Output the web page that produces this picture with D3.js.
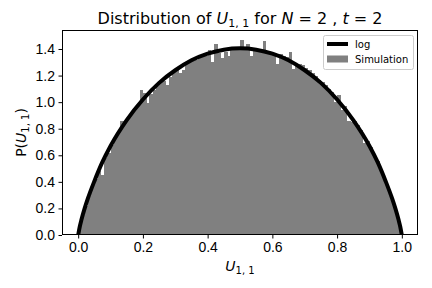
<!doctype html>
<html lang="en">
<head>
  <meta charset="utf-8">
  <title>Distribution of U11</title>
  <style>
    body { margin: 0; background: #fff; }
    svg { font-family: 'DejaVu Sans', sans-serif; }
    .tick text { font-size: 14px; fill: #000; }
    .tick line { stroke: #000; stroke-width: 1; }
    .domain { display: none; }
  </style>
</head>
<body>
<div id="chart"></div>
<script src="https://d3js.org/d3.v7.min.js"></script>
<script>
// histogram of the simulation, 100 bins of width 0.01 from 0 to 1
const binWidth = 0.01;
const simDensity = [
  0.07, 0.15, 0.22, 0.29, 0.36, 0.42, 0.48, 0.45, 0.58, 0.62,
  0.68, 0.72, 0.76, 0.86, 0.84, 0.87, 0.90, 0.94, 0.97, 1.09,
  1.07, 0.99, 1.06, 1.09, 1.12, 1.15, 1.16, 1.13, 1.19, 1.23,
  1.25, 1.22, 1.24, 1.29, 1.30, 1.31, 1.32, 1.33, 1.34, 1.35,
  1.39, 1.30, 1.44, 1.37, 1.33, 1.38, 1.35, 1.39, 1.40, 1.395,
  1.47, 1.39, 1.44, 1.35, 1.39, 1.395, 1.39, 1.46, 1.38, 1.375,
  1.37, 1.29, 1.36, 1.35, 1.34, 1.38, 1.25, 1.28, 1.29, 1.28,
  1.26, 1.24, 1.22, 1.20, 1.17, 1.15, 1.13, 1.10, 1.08, 1.00,
  1.05, 0.94, 0.97, 0.86, 0.85, 0.86, 0.83, 0.79, 0.69, 0.71,
  0.66, 0.61, 0.56, 0.50, 0.43, 0.36, 0.29, 0.22, 0.15, 0.07
];

// "log" curve, points
const curveU = [0, 0.005, 0.01, 0.02, 0.03, 0.05, 0.075, 0.1, 0.15, 0.2, 0.25, 0.3, 0.35, 0.4, 0.45, 0.5,
  0.55, 0.6, 0.65, 0.7, 0.75, 0.8, 0.85, 0.9, 0.925, 0.95, 0.97, 0.98, 0.99, 0.995, 1];
const curveP = [0, 0.064, 0.114, 0.200, 0.275, 0.405, 0.550, 0.670, 0.865, 1.020, 1.145, 1.240, 1.315, 1.365, 1.395, 1.405,
  1.395, 1.365, 1.315, 1.240, 1.145, 1.020, 0.865, 0.670, 0.550, 0.405, 0.275, 0.200, 0.114, 0.064, 0];

const xTicks = [0, 0.2, 0.4, 0.6, 0.8, 1.0];
const yTicks = [0, 0.2, 0.4, 0.6, 0.8, 1.0, 1.2, 1.4];

const width = 432, height = 288;
const margin = { top: 30, right: 14, bottom: 53, left: 62 };

const svg = d3.select('#chart').append('svg')
  .attr('width', width)
  .attr('height', height);

const x = d3.scaleLinear().domain([-0.05, 1.05]).range([margin.left, width - margin.right]);
const y = d3.scaleLinear().domain([0, 1.543]).range([height - margin.bottom, margin.top]);

svg.append('clipPath').attr('id', 'plot-clip')
  .append('rect')
  .attr('x', margin.left).attr('y', margin.top)
  .attr('width', width - margin.left - margin.right)
  .attr('height', height - margin.top - margin.bottom);

// bars
svg.append('g')
  .attr('shape-rendering', 'crispEdges')
  .selectAll('rect')
  .data(simDensity)
  .join('rect')
  .attr('x', (d, i) => x(i * binWidth))
  .attr('width', (d, i) => x((i + 1) * binWidth) - x(i * binWidth) + 0.5)
  .attr('y', d => y(d))
  .attr('height', d => y(0) - y(d))
  .attr('fill', '#808080');

// curve
const line = d3.line()
  .x(d => x(d[0]))
  .y(d => y(d[1]))
  .curve(d3.curveMonotoneX);

svg.append('path')
  .datum(d3.zip(curveU, curveP))
  .attr('d', line)
  .attr('fill', 'none')
  .attr('stroke', '#000')
  .attr('stroke-width', 4)
  .attr('clip-path', 'url(#plot-clip)');

// axes
svg.append('g')
  .attr('transform', `translate(0,${height - margin.bottom})`)
  .call(d3.axisBottom(x).tickValues(xTicks).tickFormat(d3.format('.1f')).tickSize(3.5).tickPadding(3.5));

svg.append('g')
  .attr('transform', `translate(${margin.left},0)`)
  .call(d3.axisLeft(y).tickValues(yTicks).tickFormat(d3.format('.1f')).tickSize(3.5).tickPadding(3.5));

// frame
svg.append('rect')
  .attr('x', margin.left + 0.5).attr('y', margin.top + 0.5)
  .attr('width', width - margin.left - margin.right - 1)
  .attr('height', height - margin.top - margin.bottom - 1)
  .attr('fill', 'none')
  .attr('stroke', '#000')
  .attr('stroke-width', 1);

// title
const title = svg.append('text')
  .attr('x', (margin.left + width - margin.right) / 2)
  .attr('y', 24)
  .attr('text-anchor', 'middle')
  .attr('font-size', 16);
title.append('tspan').text('Distribution of ');
title.append('tspan').attr('font-style', 'italic').text('U');
title.append('tspan').attr('font-size', 11).attr('dy', 3).text('1, 1');
title.append('tspan').attr('dy', -3).text(' for ');
title.append('tspan').attr('font-style', 'italic').text('N');
title.append('tspan').text(' = 2 , ');
title.append('tspan').attr('font-style', 'italic').text('t');
title.append('tspan').text(' = 2');

// x label
const xLabel = svg.append('text')
  .attr('x', (margin.left + width - margin.right) / 2)
  .attr('y', 271)
  .attr('text-anchor', 'middle')
  .attr('font-size', 14);
xLabel.append('tspan').attr('font-style', 'italic').text('U');
xLabel.append('tspan').attr('font-size', 10).attr('dy', 3).text('1, 1');

// y label
const yLabel = svg.append('text')
  .attr('transform', `translate(26,${(margin.top + height - margin.bottom) / 2}) rotate(-90)`)
  .attr('text-anchor', 'middle')
  .attr('font-size', 14);
yLabel.append('tspan').text('P(');
yLabel.append('tspan').attr('font-style', 'italic').text('U');
yLabel.append('tspan').attr('font-size', 10).attr('dy', 3).text('1, 1');
yLabel.append('tspan').attr('dy', -3).text(')');

// legend
const legend = svg.append('g').attr('transform', 'translate(323,35)');
legend.append('rect')
  .attr('x', 0.5).attr('y', 0.5)
  .attr('width', 90).attr('height', 34)
  .attr('rx', 2)
  .attr('fill', '#fff').attr('fill-opacity', 0.8)
  .attr('stroke', '#ccc');
legend.append('line')
  .attr('x1', 4).attr('x2', 25)
  .attr('y1', 9).attr('y2', 9)
  .attr('stroke', '#000').attr('stroke-width', 4);
legend.append('text')
  .attr('x', 32).attr('y', 12.5)
  .attr('font-size', 10).text('log');
legend.append('rect')
  .attr('x', 4).attr('y', 20.5)
  .attr('width', 21).attr('height', 7)
  .attr('fill', '#808080');
legend.append('text')
  .attr('x', 32).attr('y', 27.5)
  .attr('font-size', 10).text('Simulation');
</script>
</body>
</html>
